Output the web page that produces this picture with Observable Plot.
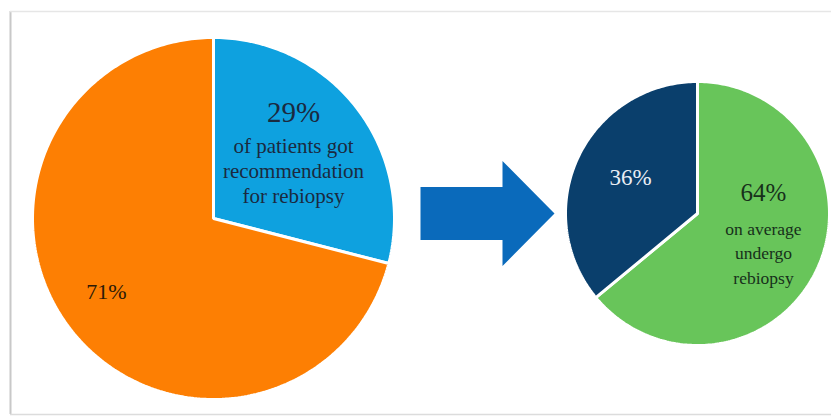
<!DOCTYPE html>
<html>
<head>
<meta charset="utf-8">
<script src="https://cdn.jsdelivr.net/npm/d3@7"></script>
<script src="https://cdn.jsdelivr.net/npm/@observablehq/plot@0.6"></script>
<style>
  html, body { margin: 0; padding: 0; background: #fff; }
  #chart { width: 831px; height: 416px; }
</style>
</head>
<body>
<div id="chart"></div>
<script>
// ---- Data ----
const leftCategories = ["Recommended for rebiopsy", "Not recommended"];
const leftValues = [29, 71];
const leftColors = ["#0ea1df", "#fd7f03"];

const rightCategories = ["Undergo rebiopsy", "No rebiopsy"];
const rightValues = [64, 36];
const rightColors = ["#68c55a", "#0a3f6c"];

// ---- Layout ----
const W = 831, H = 416;
const leftPie = {cx: 213, cy: 218, r: 181};
const rightPie = {cx: 697, cy: 213, r: 132};

function slicePolys(values, cats, colors, pie) {
  const total = d3.sum(values);
  let a0 = 0;
  return values.map((v, i) => {
    const a1 = a0 + (v / total) * 2 * Math.PI;
    const pts = [{x: pie.cx, y: pie.cy}];
    const n = Math.max(4, Math.ceil((a1 - a0) / (Math.PI / 180)));
    for (let k = 0; k <= n; k++) {
      const a = a0 + (a1 - a0) * k / n;
      pts.push({x: pie.cx + pie.r * Math.sin(a), y: pie.cy - pie.r * Math.cos(a)});
    }
    a0 = a1;
    return {cat: cats[i], color: colors[i], pts};
  });
}

const leftSlices = slicePolys(leftValues, leftCategories, leftColors, leftPie);
const rightSlices = slicePolys(rightValues, rightCategories, rightColors, rightPie);

// arrow shape (decorative)
const arrow = {x0: 420, x1: 502, tip: 554, cy: 213, body: 26.5, head: 52.5};
const arrowPts = [
  {x: arrow.x0, y: arrow.cy - arrow.body},
  {x: arrow.x1, y: arrow.cy - arrow.body},
  {x: arrow.x1, y: arrow.cy - arrow.head},
  {x: arrow.tip, y: arrow.cy},
  {x: arrow.x1, y: arrow.cy + arrow.head},
  {x: arrow.x1, y: arrow.cy + arrow.body},
  {x: arrow.x0, y: arrow.cy + arrow.body}
];

const serif = "'Liberation Serif', 'DejaVu Serif', serif";

const sliceMarks = [...leftSlices, ...rightSlices].map(s =>
  Plot.line(s.pts, {x: "x", y: "y", fill: s.color, stroke: "#fff", strokeWidth: 3, curve: "linear-closed", strokeLinejoin: "miter"})
);

const chart = Plot.plot({
  width: W,
  height: H,
  margin: 0,
  x: {domain: [0, W], range: [0, W], axis: null},
  y: {domain: [0, H], range: [0, H], axis: null},
  marks: [
    // frame
    Plot.ruleX([10], {y1: 11, y2: 414, stroke: "#c8c8c8", strokeWidth: 2}),
    Plot.ruleY([11], {x1: 10, x2: W, stroke: "#e6e6e6", strokeWidth: 1.5}),
    Plot.ruleY([414], {x1: 10, x2: W, stroke: "#dcdcdc", strokeWidth: 1.5}),
    ...sliceMarks,
    Plot.line(arrowPts, {x: "x", y: "y", fill: "#0a6abb", stroke: "none", curve: "linear-closed"}),
    // left pie labels
    Plot.text([`${leftValues[0]}%`], {x: leftPie.cx + 80, y: leftPie.cy - 97, text: d => d, fontFamily: serif, fontSize: 29, fill: "#1b2a3f", lineAnchor: "bottom"}),
    Plot.text(["of patients got\nrecommendation\nfor rebiopsy"], {x: leftPie.cx + 80, y: leftPie.cy - 16, text: d => d, fontFamily: serif, fontSize: 21, lineHeight: 1.19, fill: "#1b2a3f", lineAnchor: "bottom"}),
    Plot.text([`${leftValues[1]}%`], {x: leftPie.cx - 107, y: leftPie.cy + 80, text: d => d, fontFamily: serif, fontSize: 22, fill: "#2b1a08", lineAnchor: "bottom"}),
    // right pie labels
    Plot.text([`${rightValues[1]}%`], {x: rightPie.cx - 67, y: rightPie.cy - 29, text: d => d, fontFamily: serif, fontSize: 23, fill: "#e9eef5", lineAnchor: "bottom"}),
    Plot.text([`${rightValues[0]}%`], {x: rightPie.cx + 66, y: rightPie.cy - 13, text: d => d, fontFamily: serif, fontSize: 25, fill: "#17301a", lineAnchor: "bottom"}),
    Plot.text(["on average\nundergo\nrebiopsy"], {x: rightPie.cx + 66, y: rightPie.cy + 70, text: d => d, fontFamily: serif, fontSize: 17.5, lineHeight: 1.4, fill: "#17301a", lineAnchor: "bottom"})
  ]
});
document.getElementById("chart").appendChild(chart);
</script>
</body>
</html>
